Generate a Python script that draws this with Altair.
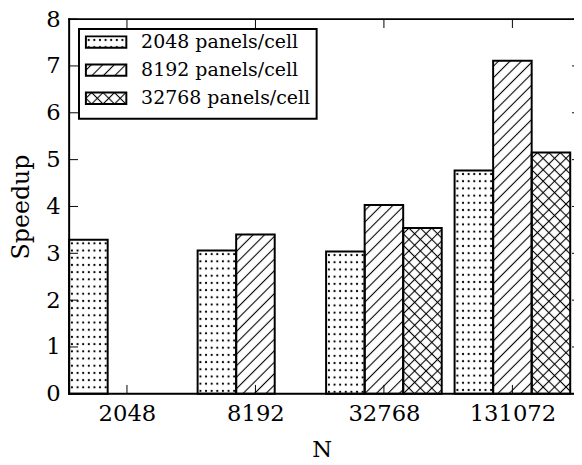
import base64
import json

import altair as alt
import pandas as pd

# ---------------- data ----------------
N_LABELS = ["2048", "8192", "32768", "131072"]
SERIES = ["2048 panels/cell", "8192 panels/cell", "32768 panels/cell"]
SPEEDUP_2048 = [3.29, 3.06, 3.04, 4.77]
SPEEDUP_8192 = [None, 3.40, 4.03, 7.11]
SPEEDUP_32768 = [None, None, 3.54, 5.15]
Y_TICKS = [0, 1, 2, 3, 4, 5, 6, 7, 8]

# ---------------- style / layout ----------------
FONT = "DejaVu Serif"
W, H = 512, 380
BAR = 0.3                 # bar width in group units (matplotlib style)
XMAX = W / 130.3          # x extent in group units


def svg_url(defs):
    svg = (
        "<svg xmlns='http://www.w3.org/2000/svg' width='100%' height='100%'>"
        "<defs>" + defs + "</defs>"
        "<rect width='100%' height='100%' fill='white'/>"
        "<rect width='100%' height='100%' fill='url(#h)'/></svg>"
    )
    return "data:image/svg+xml;base64," + base64.b64encode(svg.encode()).decode()


P = 8.2
PATTERN = {
    SERIES[0]: svg_url(
        "<pattern id='h' patternUnits='userSpaceOnUse' width='5.7' height='7.3'>"
        "<circle cx='2.85' cy='3.65' r='1.1' fill='black'/></pattern>"
    ),
    SERIES[1]: svg_url(
        f"<pattern id='h' patternUnits='userSpaceOnUse' width='{P}' height='{P}' "
        "patternTransform='rotate(45)'>"
        f"<line x1='{P/2}' y1='-1' x2='{P/2}' y2='{P+1}' stroke='black' stroke-width='1.1'/>"
        "</pattern>"
    ),
    SERIES[2]: svg_url(
        f"<pattern id='h' patternUnits='userSpaceOnUse' width='{P}' height='{P}' "
        "patternTransform='rotate(45)'>"
        f"<line x1='{P/2}' y1='-1' x2='{P/2}' y2='{P+1}' stroke='black' stroke-width='1.1'/>"
        f"<line x1='-1' y1='{P/2}' x2='{P+1}' y2='{P/2}' stroke='black' stroke-width='1.1'/>"
        "</pattern>"
    ),
}

rows = []
for si, (s, vals) in enumerate(zip(SERIES, [SPEEDUP_2048, SPEEDUP_8192, SPEEDUP_32768])):
    for gi, v in enumerate(vals):
        if v is None:
            continue
        x0 = gi + BAR * si
        rows.append({"N": N_LABELS[gi], "series": s, "speedup": v, "x0": x0, "x1": x0 + BAR})
bars = pd.DataFrame(rows)
xticks = pd.DataFrame({"x0": [gi + 1.5 * BAR for gi in range(len(N_LABELS))]})
yticks = pd.DataFrame({"speedup": Y_TICKS})
one = pd.DataFrame({"k": [0]})

xs = alt.Scale(domain=[0, XMAX], nice=False, zero=False)
ys = alt.Scale(domain=[0, 8], nice=False, zero=True)

AX_X = alt.Axis(
    values=list(xticks["x0"]),
    labelExpr=f"{json.dumps(N_LABELS)}[round(datum.value - {1.5 * BAR})]",
    ticks=False, tickSize=0, domain=False, grid=False, labelFlush=False,
    labelFont=FONT, labelFontSize=23, labelColor="black", labelPadding=9,
    title="N", titleFont=FONT, titleFontSize=23, titleFontWeight="normal",
    titleColor="black", titlePadding=14,
)
AX_Y = alt.Axis(
    values=Y_TICKS, format="d",
    ticks=False, tickSize=0, domain=False, grid=False, labelFlush=False,
    labelFont=FONT, labelFontSize=23, labelColor="black", labelPadding=9,
    title="Speedup", titleFont=FONT, titleFontSize=24, titleFontWeight="normal",
    titleColor="black", titlePadding=13,
)

X = alt.X("x0:Q", scale=xs, axis=AX_X)
Y = alt.Y("speedup:Q", scale=ys, axis=AX_Y)

pattern_layers = [
    alt.Chart(bars)
    .transform_filter(alt.datum.series == s)
    .mark_image(aspect=False)
    .encode(x=X, x2=alt.X2("x1"), y=Y, y2=alt.datum(0), url=alt.value(PATTERN[s]))
    for s in SERIES
]

outline = alt.Chart(bars).mark_rect(
    fillOpacity=0, stroke="black", strokeWidth=2, strokeJoin="miter"
).encode(x=X, x2=alt.X2("x1"), y=Y, y2=alt.datum(0))

TL = 9
tick_style = dict(color="black", strokeWidth=1)
ytick_l = alt.Chart(yticks).mark_rule(**tick_style).encode(
    y=Y, x=alt.value(0), x2=alt.value(TL))
ytick_r = alt.Chart(yticks).mark_rule(**tick_style).encode(
    y=Y, x=alt.value(W + 7 - TL), x2=alt.value(W + 7))
xtick_b = alt.Chart(xticks).mark_rule(**tick_style).encode(
    x=X, y=alt.value(H), y2=alt.value(H - TL))
xtick_t = alt.Chart(xticks).mark_rule(**tick_style).encode(
    x=X, y=alt.value(0), y2=alt.value(TL))

spine_style = dict(color="black", strokeWidth=2, strokeCap="square")
spine_l = alt.Chart(one).mark_rule(**spine_style).encode(
    x=alt.value(0), y=alt.value(0), y2=alt.value(H))
spine_t = alt.Chart(one).mark_rule(**spine_style).encode(
    y=alt.value(0), x=alt.value(0), x2=alt.value(W + 10))
spine_b = alt.Chart(one).mark_rule(**spine_style).encode(
    y=alt.value(H), x=alt.value(0), x2=alt.value(W + 10))

legend_box = alt.Chart(one).mark_rect(
    fill="white", stroke="black", strokeWidth=2, strokeJoin="miter"
).encode(x=alt.value(10), x2=alt.value(251), y=alt.value(10), y2=alt.value(101))

legend_layers = []
for i, s in enumerate(SERIES):
    d = pd.DataFrame({"series": [s]})
    top = 17.5 + 28.5 * i
    legend_layers.append(
        alt.Chart(d).mark_image(aspect=False).encode(
            x=alt.value(17), x2=alt.value(58), y=alt.value(top), y2=alt.value(top + 11.5),
            url=alt.value(PATTERN[s]))
    )
    legend_layers.append(
        alt.Chart(d).mark_rect(fillOpacity=0, stroke="black", strokeWidth=2, strokeJoin="miter").encode(
            x=alt.value(17), x2=alt.value(58), y=alt.value(top), y2=alt.value(top + 11.5))
    )
    legend_layers.append(
        alt.Chart(d).mark_text(align="left", baseline="middle", font=FONT,
                               fontSize=19.2, color="black").encode(
            x=alt.value(73), y=alt.value(top + 5.75), text="series:N")
    )

chart = (
    alt.layer(*pattern_layers, outline, ytick_l, ytick_r, xtick_b, xtick_t,
              spine_l, spine_t, spine_b, legend_box, *legend_layers)
    .properties(
        width=W, height=H,
        padding={"left": 62, "top": 8, "right": 0, "bottom": 75},
        autosize=alt.AutoSizeParams(type="none"),
        background="white",
    )
    .configure_view(strokeWidth=0)
    .configure(font=FONT)
)

chart.save("out.html", embed_options={"renderer": "svg", "actions": False})
